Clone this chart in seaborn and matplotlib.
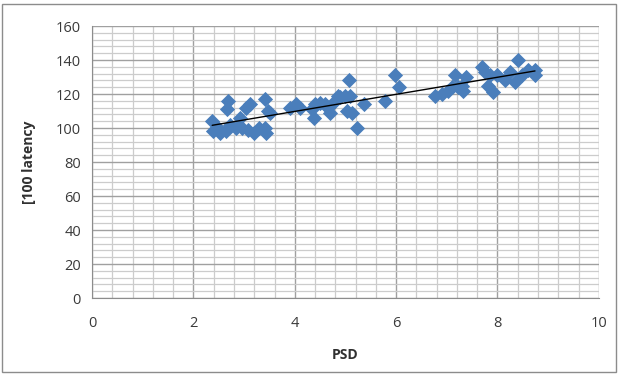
import numpy as np
import pandas as pd
import matplotlib.pyplot as plt
import seaborn as sns
from matplotlib.ticker import MultipleLocator
from matplotlib.patches import Rectangle

# valores
psd = [2.37, 2.39, 2.52, 2.49, 2.64, 2.68, 2.66, 2.72, 2.84, 2.92, 2.96, 3.04,
       3.12, 3.08, 3.20, 3.30, 3.41, 3.41, 3.43, 3.51, 3.47, 3.90, 4.02, 4.10,
       4.34, 4.40, 4.38, 4.50, 4.60, 4.69, 4.65, 4.80, 4.85, 4.90, 5.00, 5.09,
       5.07, 5.03, 5.13, 5.23, 5.36, 5.78, 5.98, 6.06, 6.77, 6.90, 7.02, 7.10,
       7.16, 7.22, 7.30, 7.38, 7.31, 7.69, 7.75, 7.85, 7.81, 7.91, 8.00, 8.15,
       8.24, 8.34, 8.40, 8.48, 8.60, 8.74, 8.74]
latency = [104, 98, 97, 100, 98, 116, 111, 102, 100, 106, 100, 112,
           114, 99, 97, 100, 117, 100, 97, 109, 110, 112, 114, 112,
           111, 114, 106, 115, 114, 109, 112, 116, 119, 118, 119, 119,
           128, 110, 109, 100, 114, 116, 131, 124, 119, 120, 122, 124,
           131, 124, 125, 130, 122, 136, 133, 131, 125, 121, 131, 128,
           133, 127, 140, 131, 134, 134, 131]

df = pd.DataFrame({"PSD": psd, "latency": latency})

sns.set_style("white")
plt.rcParams["font.family"] = ["Open Sans", "DejaVu Sans"]

fig = plt.figure(figsize=(6.18, 3.77), dpi=100)
fig.patches.append(Rectangle((0.004, 0.012), 0.992, 0.978, transform=fig.transFigure,
                             fill=False, edgecolor="#8c8c8c", linewidth=1.0))
ax = fig.add_axes([0.149, 0.2095, 0.820, 0.7215])

sns.scatterplot(data=df, x="PSD", y="latency", marker="D", s=60, color="#4a7ebb",
                edgecolor="#4a7ebb", linewidth=0, ax=ax, zorder=3)
sns.regplot(data=df, x="PSD", y="latency", scatter=False, ci=None, truncate=True,
            line_kws={"color": "black", "linewidth": 1.0, "zorder": 4}, ax=ax)

ax.set_xlim(0, 10)
ax.set_ylim(0, 160)
ax.xaxis.set_major_locator(MultipleLocator(2))
ax.xaxis.set_minor_locator(MultipleLocator(0.4))
ax.yaxis.set_major_locator(MultipleLocator(20))
ax.yaxis.set_minor_locator(MultipleLocator(4))
ax.grid(which="major", color="#a0a0a0", linewidth=1.0)
ax.grid(which="minor", color="#cccccc", linewidth=0.9)
ax.set_axisbelow(True)

for side in ["top", "right"]:
    ax.spines[side].set_visible(False)
for side in ["left", "bottom"]:
    ax.spines[side].set_color("#8c8c8c")

ax.tick_params(which="major", length=4, color="#8c8c8c", labelsize=10.5,
               labelcolor="#3a3a3a", pad=4)
ax.tick_params(which="minor", length=0)
ax.tick_params(axis="x", pad=9)

ax.set_xlabel("PSD", fontsize=10, fontweight="bold", color="#303030", labelpad=12)
ax.set_ylabel("[100 latency", fontsize=10, fontweight="bold", color="#303030", labelpad=14)

fig.savefig("out.png", dpi=100)
